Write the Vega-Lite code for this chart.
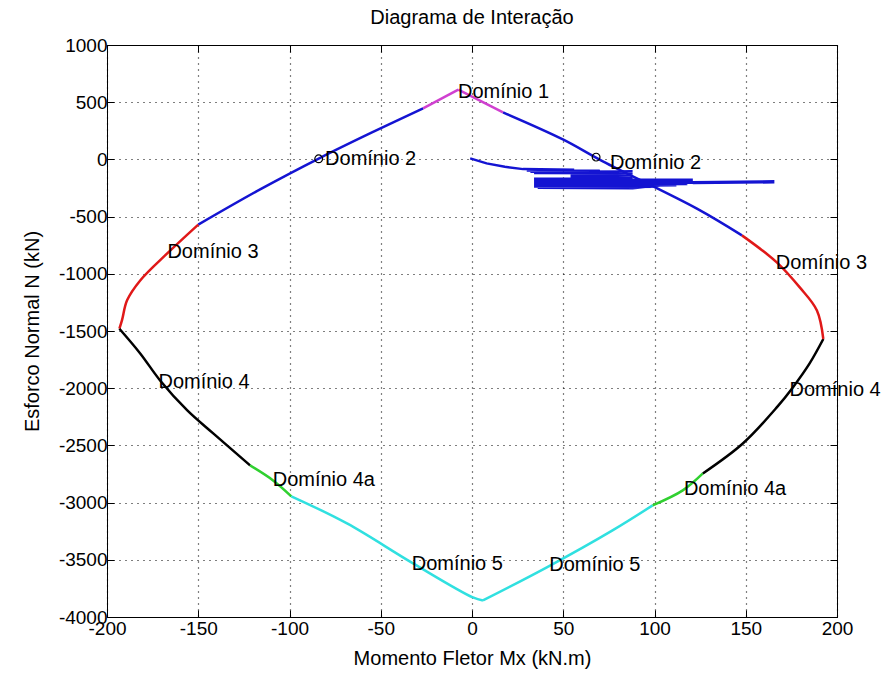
{
  "$schema": "https://vega.github.io/schema/vega-lite/v6.json",
  "width": 730,
  "height": 572,
  "autosize": {"type": "none"},
  "padding": {"left": 107, "top": 45, "right": 50, "bottom": 63},
  "background": "white",
  "config": {
    "font": "Liberation Sans",
    "view": {"stroke": "black", "strokeWidth": 1},
    "axis": {"labelFont": "Liberation Sans", "titleFont": "Liberation Sans"}
  },
  "title": {"text": "Diagrama de Interação", "fontSize": 20, "fontWeight": "normal", "font": "Liberation Sans", "color": "black", "offset": 8},
  "datasets": {
    "curve": [
      {"s": "1L", "d": "1", "o": 1, "m": -7.5, "n": 610},
      {"s": "1L", "d": "1", "o": 2, "m": -26.8, "n": 446},
      {"s": "2L", "d": "2", "o": 1, "m": -26.8, "n": 446},
      {"s": "2L", "d": "2", "o": 2, "m": -54.8, "n": 236},
      {"s": "2L", "d": "2", "o": 3, "m": -83.2, "n": 14},
      {"s": "2L", "d": "2", "o": 4, "m": -116.1, "n": -262},
      {"s": "2L", "d": "2", "o": 5, "m": -150, "n": -570},
      {"s": "3L", "d": "3", "o": 1, "m": -150, "n": -570},
      {"s": "3L", "d": "3", "o": 2, "m": -167, "n": -822},
      {"s": "3L", "d": "3", "o": 3, "m": -181.8, "n": -1058},
      {"s": "3L", "d": "3", "o": 4, "m": -189, "n": -1232},
      {"s": "3L", "d": "3", "o": 5, "m": -191.7, "n": -1400},
      {"s": "3L", "d": "3", "o": 6, "m": -193.2, "n": -1480},
      {"s": "4L", "d": "4", "o": 1, "m": -193.2, "n": -1480},
      {"s": "4L", "d": "4", "o": 2, "m": -181.8, "n": -1696},
      {"s": "4L", "d": "4", "o": 3, "m": -170.9, "n": -1932},
      {"s": "4L", "d": "4", "o": 4, "m": -156, "n": -2194},
      {"s": "4L", "d": "4", "o": 5, "m": -141.8, "n": -2395},
      {"s": "4L", "d": "4", "o": 6, "m": -121.6, "n": -2675},
      {"s": "4aL", "d": "4a", "o": 1, "m": -121.6, "n": -2675},
      {"s": "4aL", "d": "4a", "o": 2, "m": -109, "n": -2806},
      {"s": "4aL", "d": "4a", "o": 3, "m": -99, "n": -2945},
      {"s": "5L", "d": "5", "o": 1, "m": -99, "n": -2945},
      {"s": "5L", "d": "5", "o": 2, "m": -68.5, "n": -3182},
      {"s": "5L", "d": "5", "o": 3, "m": -32.3, "n": -3531},
      {"s": "5L", "d": "5", "o": 4, "m": 0.5, "n": -3829},
      {"s": "5L", "d": "5", "o": 5, "m": 6, "n": -3855},
      {"s": "5R", "d": "5", "o": 1, "m": 6, "n": -3855},
      {"s": "5R", "d": "5", "o": 2, "m": 41, "n": -3566},
      {"s": "5R", "d": "5", "o": 3, "m": 77, "n": -3243},
      {"s": "5R", "d": "5", "o": 4, "m": 99, "n": -3024},
      {"s": "4aR", "d": "4a", "o": 1, "m": 99, "n": -3024},
      {"s": "4aR", "d": "4a", "o": 2, "m": 115.5, "n": -2893},
      {"s": "4aR", "d": "4a", "o": 3, "m": 126.5, "n": -2745},
      {"s": "4R", "d": "4", "o": 1, "m": 126.5, "n": -2745},
      {"s": "4R", "d": "4", "o": 2, "m": 148.4, "n": -2483},
      {"s": "4R", "d": "4", "o": 3, "m": 167, "n": -2168},
      {"s": "4R", "d": "4", "o": 4, "m": 175.8, "n": -1993},
      {"s": "4R", "d": "4", "o": 5, "m": 185, "n": -1783},
      {"s": "4R", "d": "4", "o": 6, "m": 192.5, "n": -1570},
      {"s": "3R", "d": "3", "o": 1, "m": 192.5, "n": -1570},
      {"s": "3R", "d": "3", "o": 2, "m": 189, "n": -1320},
      {"s": "3R", "d": "3", "o": 3, "m": 179.6, "n": -1119},
      {"s": "3R", "d": "3", "o": 4, "m": 167, "n": -900},
      {"s": "3R", "d": "3", "o": 5, "m": 147.9, "n": -664},
      {"s": "2R", "d": "2", "o": 1, "m": 147.9, "n": -664},
      {"s": "2R", "d": "2", "o": 2, "m": 123, "n": -428},
      {"s": "2R", "d": "2", "o": 3, "m": 71.7, "n": -17},
      {"s": "2R", "d": "2", "o": 4, "m": 49.8, "n": 175},
      {"s": "2R", "d": "2", "o": 5, "m": 17, "n": 411},
      {"s": "1R", "d": "1", "o": 1, "m": 17, "n": 411},
      {"s": "1R", "d": "1", "o": 2, "m": -7.5, "n": 610}
    ],
    "noise": [
      {"o": 1, "m": -1, "n": 9},
      {"o": 2, "m": 8, "n": -35},
      {"o": 3, "m": 18, "n": -65},
      {"o": 4, "m": 28, "n": -85},
      {"o": 5, "m": 56, "n": -90},
      {"o": 6, "m": 30, "n": -98},
      {"o": 7, "m": 70, "n": -100},
      {"o": 8, "m": 32, "n": -108},
      {"o": 9, "m": 88, "n": -106},
      {"o": 10, "m": 34, "n": -118},
      {"o": 11, "m": 88, "n": -120},
      {"o": 12, "m": 54, "n": -130},
      {"o": 13, "m": 88, "n": -140},
      {"o": 14, "m": 54, "n": -150},
      {"o": 15, "m": 88, "n": -160},
      {"o": 16, "m": 34, "n": -170},
      {"o": 17, "m": 121, "n": -178},
      {"o": 18, "m": 34, "n": -188},
      {"o": 19, "m": 121, "n": -190},
      {"o": 20, "m": 34, "n": -200},
      {"o": 21, "m": 121, "n": -202},
      {"o": 22, "m": 34, "n": -212},
      {"o": 23, "m": 118, "n": -214},
      {"o": 24, "m": 34, "n": -224},
      {"o": 25, "m": 112, "n": -226},
      {"o": 26, "m": 34, "n": -236},
      {"o": 27, "m": 100, "n": -238},
      {"o": 28, "m": 36, "n": -248},
      {"o": 29, "m": 88, "n": -252},
      {"o": 30, "m": 121, "n": -200},
      {"o": 31, "m": 165, "n": -192},
      {"o": 32, "m": 165, "n": -200},
      {"o": 33, "m": 121, "n": -206}
    ],
    "labels": [
      {"t": "Domínio 1", "m": -7.7, "n": 586},
      {"t": "Domínio 2", "m": -80.5, "n": 5},
      {"t": "Domínio 2", "m": 75.6, "n": -35},
      {"t": "Domínio 3", "m": -166.9, "n": -810},
      {"t": "Domínio 3", "m": 166.5, "n": -906},
      {"t": "Domínio 4", "m": -171.8, "n": -1946},
      {"t": "Domínio 4", "m": 174, "n": -2019},
      {"t": "Domínio 4a", "m": -109.2, "n": -2806},
      {"t": "Domínio 4a", "m": 116.1, "n": -2879},
      {"t": "Domínio 5", "m": -33, "n": -3534},
      {"t": "Domínio 5", "m": 42.3, "n": -3549}
    ],
    "circles": [
      {"m": -84, "n": 5},
      {"m": 68, "n": 20}
    ]
  },
  "layer": [
    {
      "data": {"name": "curve"},
      "mark": {"type": "line", "strokeWidth": 2.5, "interpolate": "catmull-rom"},
      "encoding": {
        "x": {"field": "m", "type": "quantitative",
          "scale": {"domain": [-200, 200], "nice": false, "zero": false},
          "axis": {"orient": "bottom", "values": [-200, -150, -100, -50, 0, 50, 100, 150, 200], "labelExpr": "'' + datum.value",
            "title": "Momento Fletor Mx (kN.m)", "titleFontSize": 20, "titleFontWeight": "normal", "titleColor": "black", "titlePadding": 10,
            "labelFontSize": 19, "labelColor": "black", "labelPadding": 9, "labelFlush": false, "labelOverlap": false,
            "tickSize": -7, "tickColor": "black", "domainColor": "black",
            "grid": true, "gridColor": "black", "gridOpacity": 1, "gridDash": [1, 5], "gridWidth": 1.2}},
        "y": {"field": "n", "type": "quantitative",
          "scale": {"domain": [-4000, 1000], "nice": false, "zero": false},
          "axis": {"orient": "left", "values": [-4000, -3500, -3000, -2500, -2000, -1500, -1000, -500, 0, 500, 1000], "labelExpr": "'' + datum.value",
            "title": "Esforco Normal N (kN)", "titleFontSize": 20, "titleFontWeight": "normal", "titleColor": "black", "titlePadding": 16,
            "labelFontSize": 19, "labelColor": "black", "labelPadding": 7, "labelFlush": false, "labelOverlap": false,
            "tickSize": -7, "tickColor": "black", "domainColor": "black",
            "grid": true, "gridColor": "black", "gridOpacity": 1, "gridDash": [1, 5], "gridWidth": 1.2}},
        "color": {"field": "d", "type": "nominal", "legend": null,
          "scale": {"domain": ["1", "2", "3", "4", "4a", "5"], "range": ["#d040d0", "#1414d2", "#e01818", "#000000", "#30d030", "#30e0e0"]}},
        "detail": {"field": "s", "type": "nominal"},
        "order": {"field": "o", "type": "quantitative"}
      }
    },
    {
      "data": {"name": "noise"},
      "mark": {"type": "line", "strokeWidth": 2.5, "color": "#1414d2"},
      "encoding": {
        "x": {"field": "m", "type": "quantitative",
          "axis": {"orient": "top", "labels": false, "title": null, "grid": false, "values": [-200, -150, -100, -50, 0, 50, 100, 150, 200], "tickSize": -7, "tickColor": "black", "domainColor": "black"}},
        "y": {"field": "n", "type": "quantitative",
          "axis": {"orient": "right", "labels": false, "title": null, "grid": false, "values": [-4000, -3500, -3000, -2500, -2000, -1500, -1000, -500, 0, 500, 1000], "tickSize": -7, "tickColor": "black", "domainColor": "black"}},
        "order": {"field": "o", "type": "quantitative"}
      }
    },
    {
      "data": {"name": "circles"},
      "mark": {"type": "point", "shape": "circle", "filled": false, "stroke": "black", "strokeWidth": 1.2, "size": 60, "opacity": 1},
      "encoding": {
        "x": {"field": "m", "type": "quantitative", "axis": null},
        "y": {"field": "n", "type": "quantitative", "axis": null}
      }
    },
    {
      "data": {"name": "labels"},
      "mark": {"type": "text", "align": "left", "baseline": "middle", "font": "Liberation Sans", "fontSize": 20, "color": "black"},
      "encoding": {
        "x": {"field": "m", "type": "quantitative", "axis": null},
        "y": {"field": "n", "type": "quantitative", "axis": null},
        "text": {"field": "t", "type": "nominal"}
      }
    }
  ],
  "resolve": {"axis": {"x": "independent", "y": "independent"}}
}
